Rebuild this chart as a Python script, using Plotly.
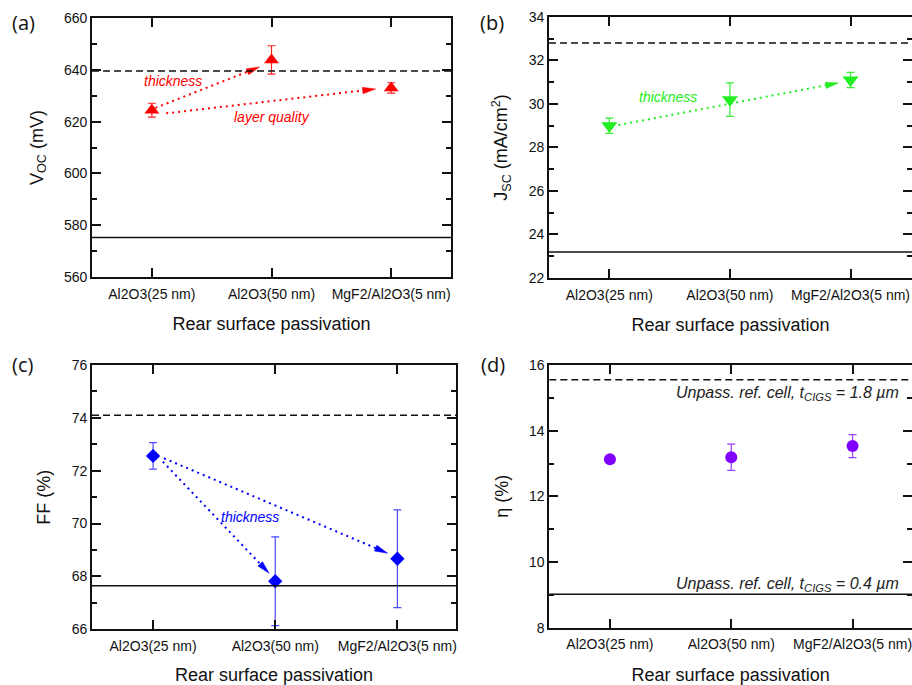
import math
import plotly.graph_objects as go

# Passivation layers on the x axis
categories = ["Al2O3(25 nm)", "Al2O3(50 nm)", "MgF2/Al2O3(5 nm)"]
xpos = [0, 1, 2]

# Measured cell parameters (mean and spread)
voc = [624.4, 643.8, 633.0]
voc_err = [2.7, 5.5, 2.0]
jsc = [29.0, 30.2, 31.1]
jsc_err = [0.35, 0.77, 0.35]
ff = [72.56, 67.82, 68.67]
ff_err = [0.5, 1.68, 1.85]
eta = [13.13, 13.19, 13.53]
eta_err = [0.1, 0.4, 0.35]

# Unpassivated reference cells: 1.8 um (dashed) and 0.4 um (solid) CIGS
ref_thick = [639.5, 32.8, 74.1, 15.55]
ref_thin = [575.3, 23.2, 67.65, 9.02]

# Trend arrows per panel: (x0, y0, x1, y1)
arrows_a = [(0.03, 625.3, 0.90, 641.1), (0.12, 623.2, 1.87, 632.6)]
arrows_b = [(0.075, 29.03, 1.90, 30.97)]
arrows_c = [(0.08, 72.34, 0.95, 68.12), (0.09, 72.47, 1.92, 68.88)]

# Arrow captions: (x, y, text)
notes_a = [(0.18, 635.7, "thickness"), (1.0, 621.8, "layer quality")]
notes_b = [(0.49, 30.32, "thickness")]
notes_c = [(0.79, 70.26, "thickness")]

# Panel (d) reference-cell captions
ref_labels = ["Unpass. ref. cell, t<sub>CIGS</sub> = 1.8 µm",
              "Unpass. ref. cell, t<sub>CIGS</sub> = 0.4 µm"]

W, H = 912, 685
FONT = "Liberation Sans, Arial, sans-serif"
INK = "#111111"

panels = [
    dict(name="(a)", ax="", vals=voc, err=voc_err, color="#ff0000", ecolor="#ff2020",
         symbol="triangle-up", size=13, yrange=[560, 660], dtick=20, minor=10,
         ytitle="V<sub>OC</sub> (mV)", xdom=[0.1009, 0.4945], ydom=[0.5956, 0.9737],
         xrange=[-0.5, 2.5], arrows=arrows_a, notes=notes_a, lab=(23, 23)),
    dict(name="(b)", ax="2", vals=jsc, err=jsc_err, color="#22ee22", ecolor="#33ee33",
         symbol="triangle-down", size=14, yrange=[22, 34], dtick=2, minor=1,
         ytitle="J<sub>SC</sub> (mA/cm<sup>2</sup>)", xdom=[0.602, 1.0], ydom=[0.5942, 0.9752],
         xrange=[-0.5, 2.51], arrows=arrows_b, notes=notes_b, lab=(492, 23)),
    dict(name="(c)", ax="3", vals=ff, err=ff_err, color="#0000ff", ecolor="#4a4aff",
         symbol="diamond", size=11, yrange=[66, 76], dtick=2, minor=1,
         ytitle="FF (%)", xdom=[0.1009, 0.5], ydom=[0.0813, 0.4672],
         xrange=[-0.5, 2.48], arrows=arrows_c, notes=notes_c, lab=(22, 364)),
    dict(name="(d)", ax="4", vals=eta, err=eta_err, color="#8000ff", ecolor="#9a3cff",
         symbol="circle", size=12, yrange=[8, 16], dtick=2, minor=1,
         ytitle="η (%)", xdom=[0.6023, 1.0], ydom=[0.0836, 0.4672],
         xrange=[-0.5, 2.49], arrows=[], notes=[], lab=(493, 364)),
]


def head_polygon(p, x0, y0, x1, y1, length=13.0, half=3.2):
    """Narrow filled arrowhead at (x1, y1), built in pixel space of the panel."""
    sx = (p["xdom"][1] - p["xdom"][0]) * W / (p["xrange"][1] - p["xrange"][0])
    sy = (p["ydom"][1] - p["ydom"][0]) * H / (p["yrange"][1] - p["yrange"][0])
    dx, dy = (x1 - x0) * sx, (y1 - y0) * sy
    n = math.hypot(dx, dy)
    ux, uy = dx / n, dy / n
    bx, by = -length * ux, -length * uy
    px, py = -uy * half, ux * half
    xs = [x1, x1 + (bx + px) / sx, x1 + (bx - px) / sx, x1]
    ys = [y1, y1 + (by + py) / sy, y1 + (by - py) / sy, y1]
    return xs, ys, x1 + bx / sx, y1 + by / sy


fig = go.Figure()
layout = dict(
    template="none",
    width=W, height=H, autosize=False,
    margin=dict(l=0, r=0, t=0, b=0, pad=0),
    paper_bgcolor="white", plot_bgcolor="white",
    showlegend=False,
    font=dict(family=FONT, size=14, color=INK),
    shapes=[], annotations=[],
)

for i, p in enumerate(panels):
    xa = "x" + p["ax"]
    ya = "y" + p["ax"]
    color = p["color"]

    # dotted trend arrows with narrow filled heads
    for (x0, y0, x1, y1) in p["arrows"]:
        hx, hy, bx, by = head_polygon(p, x0, y0, x1, y1)
        fig.add_trace(go.Scatter(
            x=[x0, bx], y=[y0, by], mode="lines", xaxis=xa, yaxis=ya,
            line=dict(color=color, width=2, dash="2px,4px"), hoverinfo="skip"))
        fig.add_trace(go.Scatter(
            x=hx, y=hy, mode="lines", fill="toself", fillcolor=color,
            line=dict(color=color, width=0.5), xaxis=xa, yaxis=ya,
            hoverinfo="skip"))

    for (nx, ny, txt) in p["notes"]:
        layout["annotations"].append(dict(
            x=nx, y=ny, xref=xa, yref=ya, text="<i>" + txt + "</i>",
            showarrow=False, font=dict(family=FONT, size=14, color=color)))

    # data points with error bars
    fig.add_trace(go.Scatter(
        x=xpos, y=p["vals"], mode="markers", xaxis=xa, yaxis=ya,
        marker=dict(symbol=p["symbol"], size=p["size"], color=color,
                    line=dict(width=0)),
        error_y=dict(type="data", array=p["err"], color=p["ecolor"],
                     thickness=1.2, width=4)))

    # reference-cell lines
    layout["shapes"].append(dict(
        type="line", xref=xa + " domain", yref=ya, x0=0, x1=1,
        y0=ref_thick[i], y1=ref_thick[i],
        line=dict(color=INK, width=1.5, dash="7px,4px")))
    layout["shapes"].append(dict(
        type="line", xref=xa + " domain", yref=ya, x0=0, x1=1,
        y0=ref_thin[i], y1=ref_thin[i],
        line=dict(color=INK, width=1.5)))

    # panel letter
    layout["annotations"].append(dict(
        x=p["lab"][0] / W, y=1 - p["lab"][1] / H, xref="paper", yref="paper",
        text=p["name"], showarrow=False, xanchor="center", yanchor="middle",
        font=dict(family="Open Sans, sans-serif", size=20, color=INK)))

    layout["xaxis" + p["ax"]] = dict(
        showline=True, linecolor=INK, linewidth=1.8, mirror="ticks",
        ticks="inside", ticklen=9, tickwidth=1.8, tickcolor=INK,
        showgrid=False, zeroline=False, ticklabelstandoff=3,
        ticklabeloverflow="allow",
        tickfont=dict(family=FONT, size=14, color=INK),
        domain=p["xdom"], range=p["xrange"], anchor=ya,
        tickmode="array", tickvals=xpos, ticktext=categories,
        title=dict(text="Rear surface passivation",
                   font=dict(family=FONT, size=18, color=INK), standoff=17),
    )
    layout["yaxis" + p["ax"]] = dict(
        showline=True, linecolor=INK, linewidth=1.8, mirror="ticks",
        ticks="inside", ticklen=9, tickwidth=1.8, tickcolor=INK,
        showgrid=False, zeroline=False,
        tickfont=dict(family=FONT, size=14, color=INK),
        domain=p["ydom"], range=p["yrange"], anchor=xa,
        tickmode="linear", dtick=p["dtick"], tick0=0,
        minor=dict(dtick=p["minor"], tick0=0, ticks="inside", ticklen=5,
                   tickwidth=1.5, tickcolor=INK, showgrid=False),
        title=dict(text=p["ytitle"],
                   font=dict(family=FONT, size=18, color=INK), standoff=16),
    )

# captions on the reference lines in panel (d)
layout["annotations"].append(dict(
    x=2.4, y=ref_thick[3], xref="x4", yref="y4", text="<i>" + ref_labels[0] + "</i>",
    showarrow=False, xanchor="right", yanchor="top", yshift=-2,
    font=dict(family=FONT, size=16, color="#222222")))
layout["annotations"].append(dict(
    x=2.4, y=ref_thin[3], xref="x4", yref="y4", text="<i>" + ref_labels[1] + "</i>",
    showarrow=False, xanchor="right", yanchor="bottom", yshift=-2,
    font=dict(family=FONT, size=16, color="#222222")))

fig.update_layout(**layout)
fig.write_html("out.html")
